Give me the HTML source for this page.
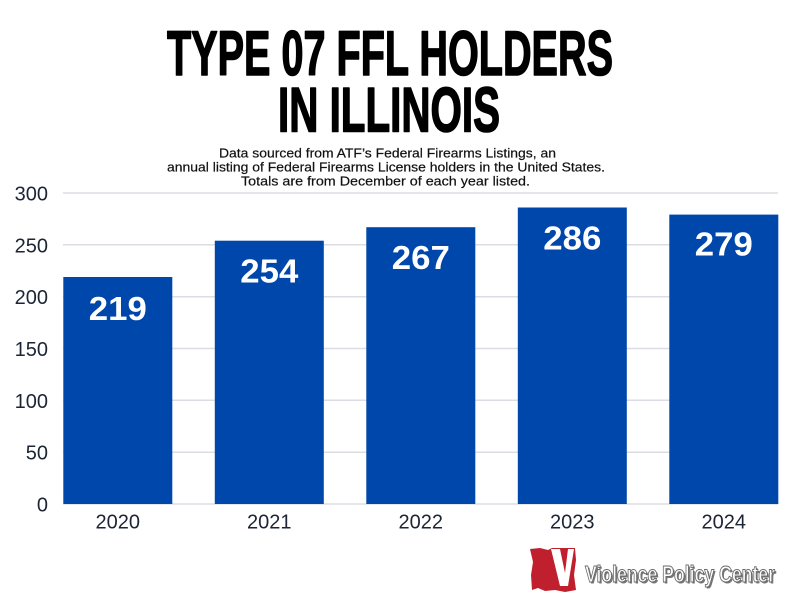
<!DOCTYPE html>
<html>
<head>
<meta charset="utf-8">
<style>
  html, body { margin: 0; padding: 0; background: #ffffff; }
  body { width: 800px; height: 600px; overflow: hidden; }
  svg { display: block; }
</style>
</head>
<body>
<svg width="800" height="600" viewBox="0 0 800 600" xmlns="http://www.w3.org/2000/svg">
  <rect x="0" y="0" width="800" height="600" fill="#ffffff"/>

  <!-- Title -->
  <g font-family="'Liberation Sans', 'DejaVu Sans', sans-serif" font-weight="bold" fill="#000" stroke="#000" stroke-width="1.6" stroke-linejoin="round">
    <text x="167" y="75" font-size="63" textLength="446" lengthAdjust="spacingAndGlyphs">TYPE 07 FFL HOLDERS</text>
    <text x="278" y="131.5" font-size="63" textLength="222" lengthAdjust="spacingAndGlyphs">IN ILLINOIS</text>
  </g>

  <!-- Subtitle -->
  <g font-family="'Liberation Sans', 'DejaVu Sans', sans-serif" font-size="13" fill="#111" stroke="#111" stroke-width="0.2">
    <text x="219" y="157.3" textLength="337" lengthAdjust="spacingAndGlyphs">Data sourced from ATF’s Federal Firearms Listings, an</text>
    <text x="167" y="171.3" textLength="438" lengthAdjust="spacingAndGlyphs">annual listing of Federal Firearms License holders in the United States.</text>
    <text x="241" y="185.7" textLength="289" lengthAdjust="spacingAndGlyphs">Totals are from December of each year listed.</text>
  </g>

  <!-- Gridlines -->
  <g stroke="#dadee4" stroke-width="1.5">
    <line x1="63" y1="193" x2="778" y2="193"/>
    <line x1="63" y1="244.8" x2="778" y2="244.8"/>
    <line x1="63" y1="296.7" x2="778" y2="296.7"/>
    <line x1="63" y1="348.5" x2="778" y2="348.5"/>
    <line x1="63" y1="400.3" x2="778" y2="400.3"/>
    <line x1="63" y1="452.2" x2="778" y2="452.2"/>
    <line x1="63" y1="504" x2="778" y2="504"/>
  </g>

  <!-- Y tick labels -->
  <g font-family="'Liberation Sans', 'DejaVu Sans', sans-serif" font-size="20" fill="#1b2535" text-anchor="end">
    <text x="48" y="200.5">300</text>
    <text x="48" y="252.3">250</text>
    <text x="48" y="304.2">200</text>
    <text x="48" y="356">150</text>
    <text x="48" y="407.8">100</text>
    <text x="48" y="459.7">50</text>
    <text x="48" y="511.5">0</text>
  </g>

  <!-- Bars -->
  <g fill="#0047ab">
    <rect x="63.3" y="277" width="109" height="227"/>
    <rect x="214.8" y="240.7" width="109" height="263.3"/>
    <rect x="366.3" y="227.2" width="109" height="276.8"/>
    <rect x="517.8" y="207.5" width="109" height="296.5"/>
    <rect x="669.3" y="214.6" width="109" height="289.4"/>
  </g>

  <!-- Bar value labels -->
  <g font-family="'Liberation Sans', 'DejaVu Sans', sans-serif" font-weight="bold" font-size="33" fill="#ffffff">
    <text x="88.8" y="320" textLength="58" lengthAdjust="spacingAndGlyphs">219</text>
    <text x="240.3" y="282.5" textLength="58" lengthAdjust="spacingAndGlyphs">254</text>
    <text x="391.8" y="269" textLength="58" lengthAdjust="spacingAndGlyphs">267</text>
    <text x="543.3" y="249.3" textLength="58" lengthAdjust="spacingAndGlyphs">286</text>
    <text x="694.8" y="255.5" textLength="58" lengthAdjust="spacingAndGlyphs">279</text>
  </g>

  <!-- X labels -->
  <g font-family="'Liberation Sans', 'DejaVu Sans', sans-serif" font-size="20" fill="#1b2535" text-anchor="middle">
    <text x="117.8" y="528.3">2020</text>
    <text x="269.3" y="528.3">2021</text>
    <text x="420.8" y="528.3">2022</text>
    <text x="572.3" y="528.3">2023</text>
    <text x="723.8" y="528.3">2024</text>
  </g>

  <!-- Logo -->
  <g>
    <polygon points="530,549 540,548 548,550 552,548 575,548 576,560 574,575 576,590 565,592 555,590 545,591 538,588 532,590 531,575 533,562" fill="#c0202e"/>
    <polygon points="551,549 560,549 565,573 568,549 574,549 568,586 560,586" fill="#ffffff"/>
  </g>
  <g font-family="'Liberation Sans', 'DejaVu Sans', sans-serif" font-weight="bold" font-size="23">
    <text x="586.5" y="583.5" fill="#777" textLength="190" lengthAdjust="spacingAndGlyphs">Violence Policy Center</text>
    <text x="585" y="582" fill="#ffffff" stroke="#6a6a6a" stroke-width="1" textLength="190" lengthAdjust="spacingAndGlyphs">Violence Policy Center</text>
  </g>
</svg>
</body>
</html>
